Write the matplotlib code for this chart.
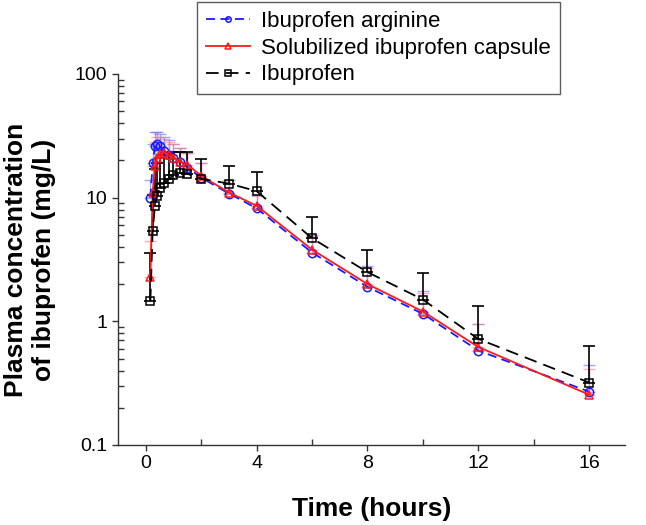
import numpy as np
import matplotlib
matplotlib.use("Agg")
import matplotlib.pyplot as plt
from matplotlib.ticker import FixedLocator, FuncFormatter, LogLocator, NullFormatter

plt.rcParams['font.family'] = ['Liberation Sans', 'DejaVu Sans']

time_h = [0.167, 0.25, 0.333, 0.417, 0.5, 0.667, 0.833, 1.0, 1.25, 1.5, 2, 3, 4, 6, 8, 10, 12, 16]

arginine_mean = [10.0, 19.0, 26.0, 27.0, 26.0, 24.0, 22.0, 21.0, 19.5, 17.5, 14.5, 10.8, 8.2, 3.6, 1.9, 1.15, 0.58, 0.27]
arginine_upper = [14.0, 27.0, 34.0, 34.0, 33.0, 31.0, 29.0, 27.0, 25.0, 23.0, 19.0, 14.0, 10.5, 5.0, 2.8, 1.75, 0.95, 0.44]

capsule_mean = [2.3, 11.0, 18.0, 21.0, 22.5, 23.0, 22.0, 21.0, 19.5, 18.5, 15.0, 11.0, 8.6, 3.8, 2.0, 1.2, 0.62, 0.255]
capsule_upper = [4.5, 18.0, 28.0, 31.0, 31.0, 30.0, 28.0, 27.0, 25.0, 23.0, 19.0, 14.0, 10.3, 4.9, 2.7, 1.7, 0.95, 0.415]

ibu_mean = [1.45, 5.4, 8.6, 10.4, 11.9, 13.1, 14.2, 15.2, 15.8, 15.6, 14.2, 13.0, 11.3, 4.7, 2.5, 1.5, 0.72, 0.32]
ibu_upper = [3.6, 10.5, 17.0, 19.0, 21.0, 22.0, 23.0, 23.5, 23.6, 23.3, 20.5, 18.1, 16.2, 7.0, 3.8, 2.45, 1.33, 0.63]

labels = ["Ibuprofen arginine", "Solubilized ibuprofen capsule", "Ibuprofen"]
x_ticks = [0, 4, 8, 12, 16]
y_ticks = [0.1, 1, 10, 100]

fig = plt.figure(figsize=(6.46, 5.25), dpi=100)
ax = fig.add_axes([0.1827, 0.1524, 0.785, 0.7067])

def upper_err(mean, up):
    m = np.array(mean); u = np.array(up)
    return [np.zeros_like(m), u - m]

series = [
    (arginine_mean, arginine_upper, '#1a1aff', 'o', (0, (5, 3)), labels[0], '#6a6aff'),
    (capsule_mean, capsule_upper, '#ff1a1a', '^', '-', labels[1], '#ff7a7a'),
    (ibu_mean, ibu_upper, 'black', 's', (0, (7, 4)), labels[2], 'black'),
]

handles = []
for i, (mean, up, col, mk, ls, lab, ecol) in enumerate(series):
    ax.errorbar(time_h, mean, yerr=upper_err(mean, up), fmt='none',
                ecolor=ecol, elinewidth=1.2 if col == 'black' else 1.0,
                capsize=4.3, capthick=1.2 if col == 'black' else 1.0,
                alpha=1.0 if col == 'black' else 0.6, zorder=2 + i)
    ln, = ax.plot(time_h, mean, color=col, linestyle=ls, linewidth=1.3,
                  marker=mk, markersize=6, markerfacecolor='none',
                  markeredgecolor=col, markeredgewidth=1.1, label=lab, zorder=5 + i)
    handles.append(ln)

ax.set_yscale('log')
ax.set_ylim(0.1, 100)
ax.set_xlim(-1.0, 17.3)

ax.xaxis.set_major_locator(FixedLocator(x_ticks))
ax.xaxis.set_minor_locator(FixedLocator([2, 6, 10, 14]))
ax.yaxis.set_major_locator(FixedLocator(y_ticks))
ax.yaxis.set_minor_locator(LogLocator(base=10, subs=np.arange(2, 10)))
ax.yaxis.set_minor_formatter(NullFormatter())
ax.yaxis.set_major_formatter(FuncFormatter(lambda v, p: f"{v:g}"))

ax.tick_params(axis='both', which='major', direction='out', length=4, width=1,
               labelsize=14, color='#333333')
ax.tick_params(axis='both', which='minor', direction='in', length=4, width=1, color='#333333')

for s in ['top', 'right']:
    ax.spines[s].set_visible(False)
for s in ['left', 'bottom']:
    ax.spines[s].set_linewidth(1.0)
    ax.spines[s].set_color('#333333')

ax.set_xlabel("Time (hours)", fontsize=19, fontweight='bold', labelpad=18)
ax.set_ylabel("Plasma concentration\nof ibuprofen (mg/L)", fontsize=19, fontweight='bold',
              labelpad=14)

leg = fig.legend(handles=handles, labels=labels, loc='upper left',
                 bbox_to_anchor=(197 / 646, 1 - 2 / 525), fontsize=16,
                 frameon=True, fancybox=False, edgecolor='#333333',
                 handlelength=2.0, labelspacing=0.26, markerscale=0.65,
                 borderpad=0.4, handletextpad=0.5, borderaxespad=0)
leg.get_frame().set_linewidth(1.0)

fig.savefig("out.png", dpi=100)
